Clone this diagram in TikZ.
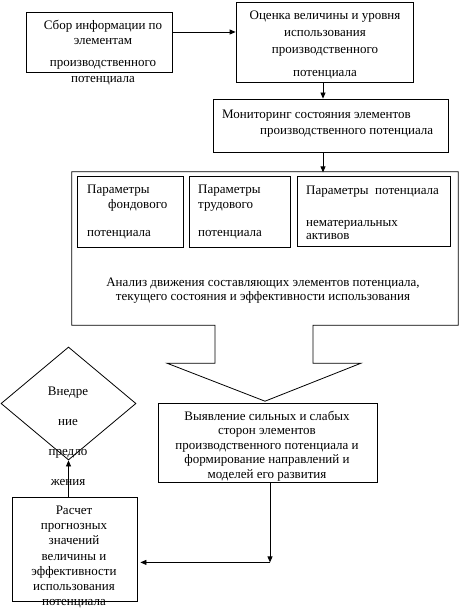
\documentclass[tikz,border=0pt]{standalone}
\usepackage{fontspec}
\setmainfont{Liberation Serif}
\usepackage{xcolor}
\usetikzlibrary{arrows.meta,calc,positioning,shapes.geometric}
\definecolor{FlowInk}{HTML}{000000}
\tikzset{
  block/.style={
    draw=FlowInk,
    fill=none,
    line width=0.8pt,
    inner sep=0pt
  },
  caption/.style={
    font=\fontsize{13}{15}\selectfont,
    text=FlowInk,
    inner sep=0pt,
    align=center
  },
  flow/.style={
    -{Triangle[length=6pt,width=5pt]},
    draw=FlowInk,
    line width=0.8pt
  }
}

\begin{document}
\begin{tikzpicture}[x=1pt,y=-1pt]
  \useasboundingbox (0,0) rectangle (459,609);
  \coordinate (feed) at (0,32);
  \coordinate (spine) at (323,0);

  % Upper chain: collection, estimation, monitoring.
  \node[block,minimum width=146pt,minimum height=60pt] (collect) at (99,42) {};
  \node[caption] (collect-text) at (103,53)
    {Сбор информации по\\элементам\\[7pt]производственного\\[1pt]потенциала};

  \node[block,minimum width=177pt,minimum height=80pt] (assess) at (324.5,42) {};
  \node[caption] (assess-text) at (325,44.5)
    {Оценка величины и уровня\\[2pt]использования\\[2pt]производственного\\[8pt]потенциала};

  \node[block,minimum width=235pt,minimum height=53pt] (monitor) at (330.5,125.5) {};
  \node[caption,align=left,anchor=west] (monitor-text) at (222,124)
    {Мониторинг состояния элементов\\[1pt]\hspace*{38pt}производственного потенциала};

  \draw[flow] (collect.east |- feed) -- (assess.west |- feed);
  \draw[flow] (assess.south -| spine) -- (monitor.north -| spine);
  \draw[flow] (monitor.south -| spine) -- ($(monitor.south -| spine)+(0,20)$);

  % Analysis frame whose lower edge opens into a block arrow.
  \node[minimum width=386pt,minimum height=153pt,inner sep=0pt] (analysis) at (265,248.5) {};
  \draw[FlowInk,line width=0.8pt]
    ($(analysis.south)+(-50,0)$) -- (analysis.south west) -- (analysis.north west)
    -- (analysis.north east) -- (analysis.south east) -- ($(analysis.south)+(48,0)$)
    -- ($(analysis.south)+(48,38)$) -- ($(analysis.south)+(96,38)$)
    -- ($(analysis.south)+(0,76)$) -- ($(analysis.south)+(-98,38)$)
    -- ($(analysis.south)+(-50,38)$) -- cycle;

  \node[block,minimum width=106pt,minimum height=71pt] (fixed) at (130,211.5) {};
  \node[caption,align=left,anchor=west] (fixed-text) at (87,212)
    {Параметры\\\hspace*{21pt}фондового\\[13pt]потенциала};

  \node[block,minimum width=101pt,minimum height=71pt] (labour) at (239.5,211.5) {};
  \node[caption,align=left,anchor=west] (labour-text) at (198,212)
    {Параметры\\трудового\\[13pt]потенциала};

  \node[block,minimum width=153pt,minimum height=70pt] (intangible) at (373.5,211) {};
  \node[caption,align=left,anchor=west] (intangible-text) at (306,213)
    {Параметры\ \ потенциала\\[17pt]нематериальных\\[-2pt]активов};

  \node[caption] (analysis-text) at (263,291)
    {Анализ движения составляющих элементов потенциала,\\[-1pt]
     текущего состояния и эффективности использования};

  % Lower part: strengths and weaknesses, forecast, implementation.
  \node[block,minimum width=219pt,minimum height=79pt] (reveal) at (267.5,442.5) {};
  \node[caption] (reveal-text) at (267,446)
    {Выявление сильных и слабых\\[-0.5pt]сторон элементов\\[-0.5pt]производственного потенциала и\\[-0.5pt]формирование направлений и\\[-0.5pt]моделей его развития};

  \node[block,minimum width=125pt,minimum height=104pt] (forecast) at (74.5,549) {};
  \node[caption] (forecast-text) at (74,557)
    {Расчет\\[0.3pt]прогнозных\\[0.3pt]значений\\[0.3pt]величины и\\[0.3pt]эффективности\\[0.3pt]использования\\[0.3pt]потенциала};

  \node[block,diamond,minimum width=135pt,minimum height=113pt] (implement) at (68.5,403.5) {};
  \node[caption] (implement-text) at (68,436)
    {Внедре\\[15pt]ние\\[15pt]предло\\[15pt]жения};

  \coordinate (bend) at ($(reveal.south)+(2.5,80)$);
  \draw[flow] (reveal.south -| bend) -- (bend);
  \draw[flow] (bend) -- ($(forecast.east |- bend)+(3,0)$);
  \draw[flow] (implement.south |- forecast.north) -- (implement.south);
\end{tikzpicture}
\end{document}
